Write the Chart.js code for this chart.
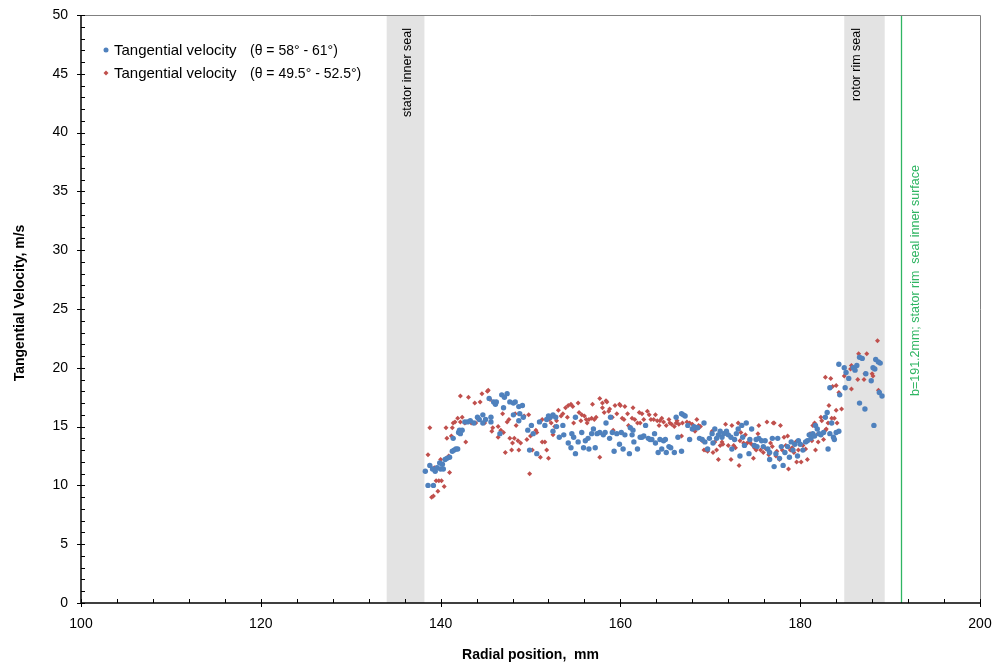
<!DOCTYPE html>
<html>
<head>
<meta charset="utf-8">
<script src="https://cdn.jsdelivr.net/npm/chart.js@4.4.1/dist/chart.umd.min.js"></script>
<style>
  html, body { margin: 0; padding: 0; background: #fff; }
  #wrap { width: 995px; height: 670px; }
</style>
</head>
<body>
<div id="wrap"><canvas id="chart" width="995" height="670"></canvas></div>
<script>
// --- data ---
const blueX = [138.3,138.6,138.8,139.1,139.2,139.4,139.6,139.9,140.0,140.2,140.3,140.5,140.7,141.0,141.3,141.4,141.5,141.7,141.9,142.0,142.1,142.2,142.4,142.7,143.0,143.3,143.7,144.1,144.3,144.7,144.7,145.0,145.4,145.6,145.6,145.9,146.1,146.2,146.6,146.8,147.0,147.1,147.4,147.7,148.1,148.1,148.3,148.7,148.7,148.8,149.1,149.2,149.7,149.9,150.1,150.3,150.7,151.0,151.6,151.8,152.0,152.2,152.5,152.5,152.8,152.9,153.2,
  153.6,153.7,154.2,154.5,154.6,154.8,155.0,155.0,155.3,155.7,155.9,156.1,156.4,156.5,156.8,157.0,157.2,157.4,157.7,158.1,158.3,158.4,158.8,158.9,159.1,159.3,159.6,159.9,160.1,160.3,160.5,161.0,161.1,161.3,161.4,161.5,161.9,162.2,162.4,162.6,162.8,163.1,163.3,163.5,163.8,163.9,164.2,164.4,164.6,164.8,165.0,165.1,165.4,165.6,166.0,166.2,166.4,166.8,166.8,167.0,167.2,167.5,167.7,168.0,168.2,168.5,168.6,168.8,169.1,169.3,169.4,169.7,169.9,
  170.2,170.3,170.5,170.7,170.9,171.1,171.3,171.5,171.8,172.0,172.3,172.4,172.7,172.9,173.1,173.3,173.5,173.6,173.8,174.0,174.3,174.4,174.6,174.9,175.1,175.2,175.4,175.7,175.9,176.1,176.4,176.6,176.6,176.9,177.1,177.3,177.5,177.7,177.9,178.1,178.3,178.6,178.8,179.0,179.2,179.4,179.7,179.8,180.0,180.3,180.6,180.8,181.0,181.2,181.4,181.6,181.7,181.9,182.1,182.3,182.6,182.8,183.0,183.1,183.3,183.3,183.5,183.7,183.8,184.0,184.3,184.3,184.4,
  184.9,185.0,185.1,185.4,185.9,186.1,186.3,186.6,186.6,186.9,187.2,187.3,187.9,188.1,188.2,188.3,188.4,188.7,188.8,188.9,189.1];
const blueY = [11.2,10.0,11.7,11.4,10.0,11.2,11.5,11.9,11.4,11.8,11.4,12.2,12.3,12.4,12.9,14.0,13.0,13.1,13.1,14.5,14.7,14.4,14.7,15.4,15.4,15.5,15.3,15.8,15.6,16.0,15.3,15.6,17.4,15.4,15.8,17.1,16.9,17.1,14.4,17.7,16.6,17.5,17.8,17.1,17.0,16.0,17.1,16.7,15.5,16.1,16.8,15.8,14.7,13.0,15.1,14.4,12.7,15.4,15.1,15.6,15.9,15.8,16.0,14.6,15.8,15.0,14.1,
  15.1,14.3,13.6,13.2,14.4,14.1,12.7,15.8,13.7,14.5,13.2,13.8,14.0,13.1,14.4,14.8,13.2,14.4,14.5,14.3,14.5,15.3,14.0,15.8,14.5,12.9,14.4,13.5,14.5,13.1,14.3,12.7,14.9,14.3,14.7,13.7,13.1,14.1,14.1,14.2,15.1,14.0,13.9,13.9,14.4,13.6,12.8,13.9,13.1,13.8,13.9,12.8,13.3,13.2,12.8,15.8,14.1,16.1,12.9,16.0,15.9,15.1,13.9,14.8,15.0,14.9,14.9,14.0,13.9,15.3,13.7,13.1,14.0,
  14.4,13.6,14.8,14.0,14.3,14.6,14.1,14.4,14.6,14.3,14.1,13.1,13.9,14.4,14.8,12.5,15.1,14.1,13.4,15.3,12.7,13.9,14.8,13.4,13.9,13.3,14.0,13.8,13.3,13.8,13.1,12.2,12.8,14.0,11.6,12.7,14.0,12.3,13.3,11.7,12.8,13.3,12.4,13.7,13.0,13.5,12.5,13.8,13.5,13.0,13.7,13.8,14.3,14.0,14.4,14.2,15.1,14.8,14.4,14.3,14.5,15.8,16.2,13.1,14.4,18.3,15.3,14.1,13.9,14.5,14.6,20.3,17.7,
  20.0,18.3,19.6,19.1,20.0,19.8,20.2,20.9,17.0,20.8,16.5,19.5,18.9,20.0,15.1,19.9,20.7,20.5,17.9,20.4,17.6];

const redX = [138.6,138.8,139.0,139.2,139.3,139.5,139.7,139.8,140.0,140.1,140.4,140.6,140.7,140.9,141.0,141.2,141.3,141.4,141.6,141.9,142.2,142.2,142.4,142.7,142.8,143.1,143.4,143.8,143.9,144.2,144.4,144.6,144.9,145.2,145.3,145.5,145.7,145.8,146.1,146.4,146.4,146.7,146.9,147.0,147.2,147.4,147.6,147.7,147.9,148.0,148.2,148.3,148.4,148.6,148.7,148.9,149.3,149.6,149.8,149.9,150.0,150.2,150.6,150.7,151.1,151.3,151.3,151.6,151.8,152.0,152.1,152.3,152.5,152.7,152.9,153.1,
  153.4,153.6,153.9,154.1,154.2,154.5,154.7,154.8,155.3,155.4,155.6,155.7,156.0,156.2,156.3,156.5,156.8,156.9,157.1,157.3,157.7,157.7,158.0,158.0,158.2,158.4,158.5,158.7,158.8,159.1,159.2,159.4,159.6,159.9,160.0,160.2,160.4,160.5,160.8,160.9,161.3,161.4,161.6,161.9,162.1,162.2,162.4,162.6,162.8,163.0,163.2,163.4,163.7,163.9,164.1,164.3,164.4,164.6,164.8,165.1,165.4,165.5,165.7,166.0,166.2,166.3,166.5,166.8,166.9,167.4,167.7,168.0,168.3,168.5,168.7,168.9,169.1,169.3,169.5,169.7,
  170.2,170.3,170.5,170.7,170.9,171.1,171.3,171.4,171.7,171.8,172.0,172.3,172.4,172.6,172.8,173.1,173.2,173.3,173.4,173.7,173.9,174.1,174.4,174.6,174.8,174.9,175.1,175.3,175.4,175.6,175.7,175.9,176.2,176.3,176.5,176.7,176.9,177.0,177.1,177.3,177.4,177.7,177.8,178.0,178.2,178.4,178.6,178.7,178.9,179.1,179.3,179.5,179.6,179.8,180.1,180.3,180.6,180.8,181.1,181.3,181.4,181.6,181.7,182.0,182.0,182.3,182.4,182.6,182.8,182.8,182.9,183.1,183.2,183.4,183.5,183.6,183.8,184.0,184.0,184.1,184.3,184.6,
  184.9,185.6,185.7,185.7,186.4,186.5,187.1,187.2,187.4,188.0,188.1,188.6,188.7];
const redY = [12.6,14.9,9.0,9.1,11.5,10.4,9.5,10.4,12.2,10.4,9.9,14.9,14.0,12.5,11.1,14.2,14.9,15.3,15.4,15.7,15.4,17.6,15.8,15.3,13.7,17.5,15.3,17.0,15.3,15.6,17.1,17.8,15.3,18.0,18.1,17.3,14.6,14.9,17.0,15.0,14.1,14.7,16.1,14.5,12.8,15.4,15.6,14.0,13.0,13.6,14.0,16.1,15.1,13.8,13.0,13.6,15.9,13.9,16.0,11.0,14.2,13.0,14.7,14.5,12.4,13.7,15.6,13.7,13.0,12.3,15.6,15.3,14.3,15.0,15.5,16.4,
  15.9,16.1,16.6,15.8,16.8,16.9,16.7,15.3,17.0,16.2,15.5,16.0,15.9,15.6,15.3,15.6,15.7,16.9,15.6,15.8,12.4,17.4,17.0,16.6,16.2,17.2,17.1,16.3,16.5,15.8,14.7,16.8,16.1,16.9,16.8,15.7,15.6,16.7,16.1,15.1,15.7,16.6,15.6,15.3,16.2,15.3,16.1,15.6,15.1,16.3,16.0,15.6,15.6,16.0,15.5,15.1,15.5,15.7,15.4,15.1,15.6,15.3,15.2,15.0,15.3,15.5,15.2,14.2,15.3,15.4,15.3,15.2,14.6,15.6,15.1,15.0,13.8,13.0,13.0,12.9,
  14.6,12.8,13.7,13.0,12.2,13.4,13.7,13.5,15.2,14.4,13.4,12.2,15.1,13.4,13.2,15.3,11.7,13.8,14.5,13.6,14.3,13.6,13.7,13.5,12.3,13.2,13.0,14.4,15.1,13.0,13.8,12.8,13.1,15.4,12.6,13.6,13.3,15.3,15.3,12.5,12.9,12.2,15.1,13.0,14.1,13.4,14.2,11.4,13.0,13.2,12.8,13.7,12.0,13.0,12.0,13.4,13.1,12.2,14.4,13.8,15.1,15.3,13.0,14.4,13.7,15.8,15.5,13.9,14.7,19.2,14.8,15.3,16.8,19.1,15.7,18.4,15.7,16.4,18.5,15.3,17.9,16.5,
  19.3,19.9,20.2,18.2,19.0,21.2,19.0,19.5,21.2,19.5,19.3,22.3,18.1];

const seriesNames = ['Tangential velocity', 'Tangential velocity'];
const seriesAngles = ['(\u03b8 = 58\u00b0 - 61\u00b0)', '(\u03b8 = 49.5\u00b0 - 52.5\u00b0)'];
const statorBand = [134.0, 138.2];
const rotorBand = [184.9, 189.4];
const sealLine = 191.2;

const FONT = '"Liberation Sans", Arial, sans-serif';
const BLUE = '#4f81bd';
const RED = '#c0504d';
const GREEN = '#2fb562';

const toPoints = (xs, ys) => xs.map((x, i) => ({ x: x, y: ys[i] }));

// bands, seal line, frame, ticks, labels, legend
const decor = {
    id: 'decor',
    beforeDatasetsDraw(chart) {
        const { ctx, chartArea: a, scales: { x } } = chart;
        ctx.save();
        ctx.fillStyle = '#e3e3e3';
        [statorBand, rotorBand].forEach(b => {
            const x0 = x.getPixelForValue(b[0]);
            const x1 = x.getPixelForValue(b[1]);
            ctx.fillRect(x0, a.top, x1 - x0, a.bottom - a.top);
        });
        const gx = Math.round(x.getPixelForValue(sealLine)) + 0.5;
        ctx.strokeStyle = GREEN;
        ctx.lineWidth = 1.3;
        ctx.beginPath();
        ctx.moveTo(gx, a.top);
        ctx.lineTo(gx, a.bottom);
        ctx.stroke();
        ctx.restore();
    },
    afterDatasetsDraw(chart) {
        const { ctx, chartArea: a, scales: { x, y } } = chart;
        ctx.save();

        // frame
        ctx.strokeStyle = '#808080';
        ctx.lineWidth = 1;
        ctx.beginPath();
        ctx.moveTo(a.left, a.top + 0.5);
        ctx.lineTo(a.right + 0.5, a.top + 0.5);
        ctx.lineTo(a.right + 0.5, a.bottom);
        ctx.stroke();

        // axes and tick marks
        ctx.strokeStyle = '#000';
        ctx.lineWidth = 1.5;
        ctx.beginPath();
        ctx.moveTo(a.left, a.top);
        ctx.lineTo(a.left, a.bottom);
        ctx.lineTo(a.right, a.bottom);
        ctx.stroke();
        ctx.lineWidth = 1;
        ctx.beginPath();
        for (let v = 100; v <= 200; v += 4) {
            const px = Math.round(x.getPixelForValue(v)) + 0.5;
            const major = (v - 100) % 20 === 0;
            ctx.moveTo(px, a.bottom - 4);
            ctx.lineTo(px, a.bottom + (major ? 4 : 0));
        }
        for (let v = 0; v <= 50; v += 1) {
            const py = Math.round(y.getPixelForValue(v)) + 0.5;
            const major = v % 5 === 0;
            ctx.moveTo(a.left - (major ? 4 : 0), py);
            ctx.lineTo(a.left + 4, py);
        }
        ctx.stroke();

        // vertical notes
        const vtext = (txt, px, top, color) => {
            ctx.save();
            ctx.translate(px, top);
            ctx.rotate(-Math.PI / 2);
            ctx.fillStyle = color;
            ctx.font = '12.5px ' + FONT;
            ctx.textAlign = 'right';
            ctx.textBaseline = 'middle';
            ctx.fillText(txt, 0, 0);
            ctx.restore();
        };
        vtext('stator inner seal', 408, 28, '#000');
        vtext('rotor rim seal', 857, 28, '#000');
        vtext('b=191.2mm; stator rim  seal inner surface', 916, 165, GREEN);

        // axis titles
        ctx.fillStyle = '#000';
        ctx.font = 'bold 14px ' + FONT;
        ctx.textAlign = 'center';
        ctx.textBaseline = 'middle';
        ctx.fillText('Radial position,  mm', (a.left + a.right) / 2, 655);
        ctx.save();
        ctx.translate(20, 303);
        ctx.rotate(-Math.PI / 2);
        ctx.fillText('Tangential Velocity, m/s', 0, 0);
        ctx.restore();

        // legend
        const rows = [51, 74];
        ctx.textAlign = 'left';
        rows.forEach((ry, i) => {
            if (i === 0) {
                ctx.fillStyle = BLUE;
                ctx.beginPath();
                ctx.arc(106, ry - 1, 2.5, 0, Math.PI * 2);
                ctx.fill();
            } else {
                ctx.fillStyle = RED;
                ctx.beginPath();
                ctx.moveTo(106, ry - 3.5);
                ctx.lineTo(108.5, ry - 1);
                ctx.lineTo(106, ry + 1.5);
                ctx.lineTo(103.5, ry - 1);
                ctx.closePath();
                ctx.fill();
            }
            ctx.fillStyle = '#000';
            ctx.font = '15px ' + FONT;
            ctx.fillText(seriesNames[i], 114, ry);
            ctx.font = '14px ' + FONT;
            ctx.fillText(seriesAngles[i], 250, ry);
        });
        ctx.restore();
    }
};

new Chart(document.getElementById('chart'), {
    type: 'scatter',
    data: {
        datasets: [
            {
                label: seriesNames[0] + ' ' + seriesAngles[0],
                data: toPoints(blueX, blueY),
                pointStyle: 'circle',
                pointRadius: 2.7,
                backgroundColor: BLUE,
                borderWidth: 0
            },
            {
                label: seriesNames[1] + ' ' + seriesAngles[1],
                data: toPoints(redX, redY),
                pointStyle: 'rectRot',
                pointRadius: 2.5,
                backgroundColor: RED,
                borderWidth: 0
            }
        ]
    },
    options: {
        responsive: false,
        animation: false,
        devicePixelRatio: 1,
        layout: { padding: { left: 0, top: 15, right: 15, bottom: 0 } },
        plugins: {
            legend: { display: false },
            tooltip: { enabled: false }
        },
        scales: {
            x: {
                type: 'linear',
                min: 100,
                max: 200,
                grid: { display: false, drawTicks: false },
                border: { display: false },
                ticks: { stepSize: 20, padding: 13, color: '#000', font: { family: FONT, size: 14 } },
                afterFit: s => {
                    s.height = 67;
                    s.paddingLeft = 0;
                    s.paddingRight = 0;
                }
            },
            y: {
                min: 0,
                max: 50,
                grid: { display: false, drawTicks: false },
                border: { display: false },
                ticks: { stepSize: 5, padding: 13, color: '#000', font: { family: FONT, size: 14 } },
                afterFit: s => {
                    s.width = 81;
                    s.paddingTop = 0;
                    s.paddingBottom = 0;
                }
            }
        }
    },
    plugins: [decor]
});
</script>
</body>
</html>
